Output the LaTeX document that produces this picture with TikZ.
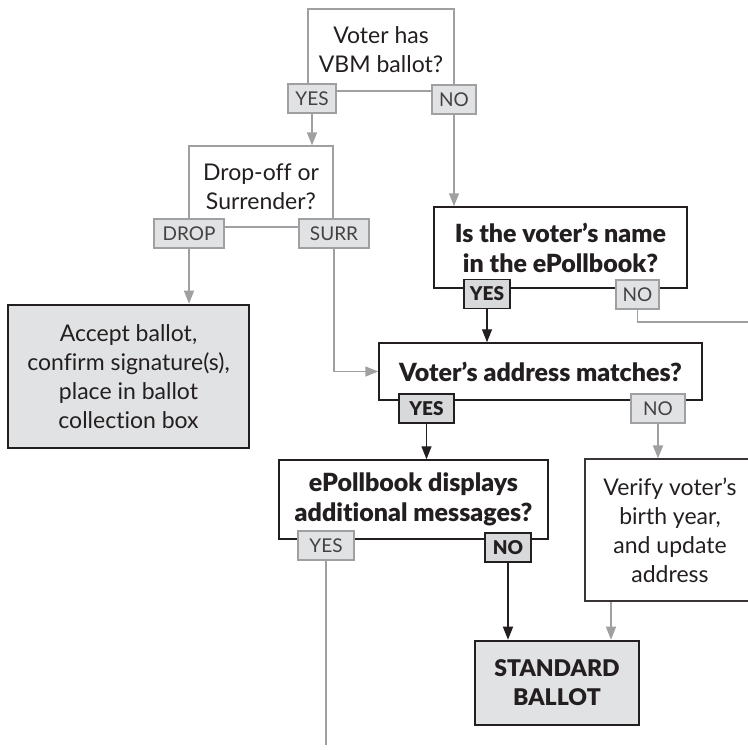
\documentclass[tikz,border=0pt]{standalone}
\usepackage{fontspec}
\setmainfont{Lato}[Ligatures=NoCommon, BoldFont={Lato Black}]
\usetikzlibrary{arrows.meta,positioning}
\definecolor{lnGray}{HTML}{A0A0A2}
\definecolor{tagFill}{HTML}{E1E2E3}
\definecolor{tagDark}{HTML}{D8D9DA}
\definecolor{inkDark}{HTML}{231F20}
\tikzset{
  qsoft/.style = {draw=lnGray, line width=0.6pt, fill=white, align=center,
                  inner sep=2pt, text=inkDark,
                  font=\fontsize{11.5}{14.5}\selectfont},
  qhard/.style = {qsoft, draw=inkDark, line width=0.75pt,
                  font=\fontsize{12.5}{15}\selectfont\bfseries},
  endbox/.style = {qsoft, draw=inkDark, line width=1.3pt, fill=tagFill},
  ans/.style = {draw=lnGray, line width=0.6pt, fill=tagFill, inner sep=0pt,
                text=inkDark!85, minimum height=14.5pt,
                font=\fontsize{9.5}{11}\selectfont},
  ansbold/.style = {ans, draw=inkDark, fill=tagDark, text=inkDark,
                    font=\fontsize{9.5}{11}\selectfont\bfseries},
  flow/.style = {draw=lnGray, line width=0.75pt,
                 -{Triangle[length=6.5pt, width=5pt]}},
  flowdark/.style = {flow, draw=inkDark, line width=0.7pt},
  link/.style = {draw=lnGray, line width=0.75pt}
}

\begin{document}
\begin{tikzpicture}[x=0.5pt, y=-0.5pt]
	\clip (0,0) rectangle (748,750);

	% Questions
	\node[qsoft, minimum width=73pt, minimum height=41pt] (vbm) at (381,50) {Voter has\\VBM ballot?};
	\node[qsoft, minimum width=72pt, minimum height=40.5pt] (drop) at (261,186.5) {Drop-off or\\Surrender?};
	\node[qhard, minimum width=126.5pt, minimum height=40.5pt] (pollbook) at (560.5,247.5) {Is the voter’s name\\in the ePollbook?};
	\node[qhard, minimum width=161.5pt, minimum height=28.5pt] (address) at (540.5,371.5) {Voter’s address matches?};
	\node[qhard, minimum width=134.5pt, minimum height=39.5pt] (messages) at (413.5,499.5) {ePollbook displays\\additional messages?};
	\node[qsoft, draw=inkDark!90, minimum width=85pt, minimum height=71pt] (verify) at (670,530) {Verify voter’s\\birth year,\\and update\\address};

	% Outcomes
	\node[endbox, minimum width=120.5pt, minimum height=71.5pt] (accept) at (128.5,376.5) {Accept ballot,\\confirm signature(s),\\place in ballot\\collection box};
	\node[endbox, font=\fontsize{11.5}{14.5}\selectfont\bfseries, minimum width=82pt, minimum height=42pt] (standard) at (557,683) {STANDARD\\BALLOT};

	% Answers
	\node[ans, minimum width=24pt] (vbmyes) at (312,98.5) {YES};
	\node[ans, minimum width=22pt] (vbmno) at (454,99.5) {NO};
	\node[ans, minimum width=35pt] (droptag) at (189,233.5) {DROP};
	\node[ans, minimum width=35pt] (surrtag) at (334,233.5) {SURR};
	\node[ansbold, minimum width=23pt] (pbyes) at (487,294) {YES};
	\node[ans, minimum width=21.5pt] (pbno) at (637.5,294.5) {NO};
	\node[ansbold, minimum width=27.5pt] (adyes) at (426.5,408.5) {YES};
	\node[ans, minimum width=27pt] (adno) at (658,408.5) {NO};
	\node[ans, minimum width=28pt] (msyes) at (326,545.5) {YES};
	\node[ansbold, minimum width=23pt] (msno) at (508,547.5) {NO};

	% Loose ends
	\coordinate (pbnoend) at (760,322);
	\coordinate (msyesend) at (328,745);

	% Connectors
	\draw[flow] (vbmyes.south) -- (vbmyes.south |- drop.north);
	\draw[flow] (vbmno.south) -- (vbmno.south |- pollbook.north);
	\draw[flow] (droptag.south) -- (droptag.south |- accept.north);
	\draw[flow] (surrtag.south) |- (address.west);
	\draw[link] (pbno.south) |- (pbnoend);
	\draw[flowdark] (pbyes.south) -- (pbyes.south |- address.north);
	\draw[flowdark] (adyes.south) -- (adyes.south |- messages.north);
	\draw[flow] (adno.south) -- (adno.south |- verify.north);
	\draw[flowdark] (msno.south) -- (msno.south |- standard.north);
	\draw[flow] ([xshift=-29.5pt]verify.south) -- ([xshift=-29.5pt]verify.south |- standard.north);
	\draw[link] (msyes.south) -- (msyes.south |- msyesend);
\end{tikzpicture}
\end{document}
